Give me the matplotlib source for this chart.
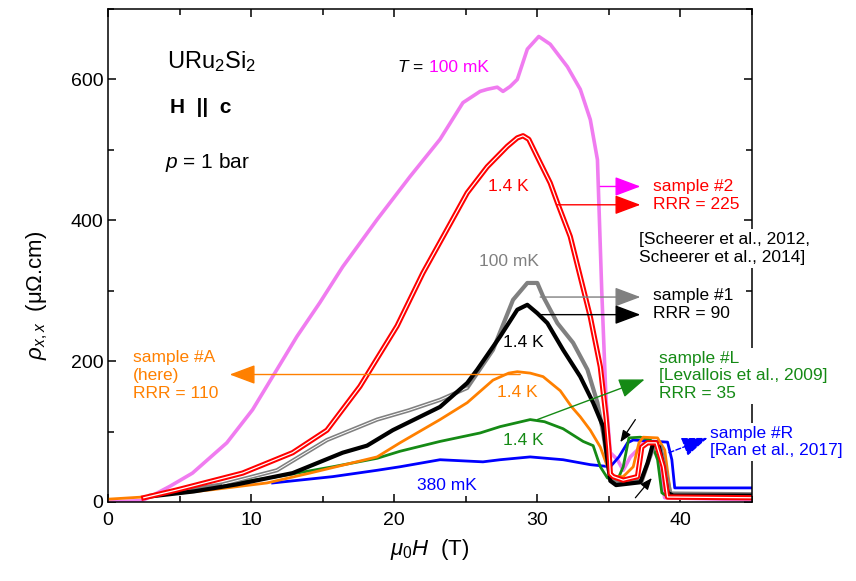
import numpy as np
import matplotlib
matplotlib.use("Agg")
import matplotlib.pyplot as plt
from matplotlib.ticker import MultipleLocator

plt.rcParams['font.family'] = ['Liberation Sans', 'DejaVu Sans']
plt.rcParams['mathtext.fontset'] = 'custom'
plt.rcParams['mathtext.rm'] = 'Liberation Sans'
plt.rcParams['mathtext.it'] = 'Liberation Sans:italic'
plt.rcParams['mathtext.bf'] = 'Liberation Sans:bold'

# sample #2, T = 100 mK
mag_x = [0, 2.4, 2.9, 4.3, 5.9, 8.3, 10.1, 11.8, 13.2, 14.8, 16.4, 18.8, 21.1, 23.2, 24.8, 26.0, 26.5,
         27.2, 27.6, 28.1, 28.6, 29.3, 30.1, 30.9, 32.1, 33.0, 33.7, 34.2, 34.5, 34.8, 35.1, 35.6,
         36.0, 36.5, 37.0, 37.4, 37.9, 38.4, 38.7, 38.9, 45]
mag_y = [0, 2, 7, 22, 41, 84, 131, 188, 235, 283, 334, 401, 462, 515, 567, 583, 586,
         589, 583, 590, 600, 643, 661, 650, 618, 586, 543, 486, 300, 145, 70, 60,
         45, 64, 74, 84, 84, 77, 27, 6, 3]

# sample #2, T = 1.4 K
red_x = [2.5, 4.8, 9.4, 12.9, 15.3, 17.6, 20.2, 22.0, 23.5, 25.1, 26.5, 27.9, 28.6, 29.0, 29.4, 30.0,
         30.9, 31.4, 32.3, 33.0, 33.7, 34.4, 34.8, 35.0, 35.1, 35.3, 36.0, 37.0, 37.3, 37.7, 38.3,
         38.8, 39.1, 45]
red_y = [6, 17, 41, 70, 102, 164, 250, 325, 380, 439, 476, 505, 517, 520, 515, 490,
         453, 425, 377, 320, 263, 192, 121, 74, 40, 36, 31, 36, 78, 84, 84,
         50, 7, 6]

# sample #1, T = 100 mK
gray_x = [3.0, 8.0, 11.8, 15.3, 18.8, 21.0, 23.2, 25.1, 26.9, 28.3, 29.3, 30.0, 30.4, 31.4, 32.5, 33.5,
          34.2, 34.6, 35.0, 35.3, 37.3, 37.8, 38.2, 38.6, 39.0, 39.3, 45]
gray_y = [9, 25, 45, 88, 117, 130, 145, 162, 216, 287, 311, 311, 292, 254, 226, 188,
          141, 98, 45, 28, 30, 60, 82, 78, 40, 12, 11]

# sample #1, T = 1.4 K
blk_x = [3.0, 6.0, 9.0, 12.9, 16.4, 18.1, 19.9, 23.2, 25.1, 25.8, 27.4, 28.6, 29.3, 30.0, 30.7, 31.8,
         33.0, 33.9, 34.6, 34.9, 35.1, 35.5, 37.2, 37.7, 38.1, 38.5, 38.8, 39.1, 39.5, 45]
blk_y = [8, 15, 25, 41, 70, 80, 102, 135, 169, 188, 235, 273, 280, 268, 254, 216,
         178, 141, 107, 60, 30, 24, 28, 55, 84, 78, 50, 13, 9, 9]

# sample #A (here), T = 1.4 K
org_x = [0, 2.4, 7.1, 11.1, 14.1, 18.8, 20.4, 23.2, 25.1, 26.9, 28.0, 28.6, 29.5, 30.4, 31.6, 32.4,
         33.0, 33.7, 34.4, 34.9, 35.3, 36.0, 36.7, 37.1, 37.4, 38.4, 38.9, 39.3, 39.6, 45]
org_y = [4, 7, 17, 27, 41, 64, 84, 117, 141, 173, 183, 185, 183, 178, 158, 135,
         121, 102, 78, 50, 36, 36, 50, 84, 92, 91, 74, 13, 7, 7]

# sample #L, T = 1.4 K
grn_x = [4.7, 8.0, 11.8, 15.7, 18.8, 20.4, 23.2, 26.0, 27.4, 29.5, 30.5, 31.8, 33.2, 33.9, 34.4, 34.9,
         35.6, 36.0, 36.4, 37.2, 37.9, 38.4, 38.7, 39.0, 45]
grn_y = [14, 24, 36, 50, 62, 72, 86, 98, 107, 117, 114, 104, 86, 80, 50, 34,
         31, 50, 91, 92, 88, 60, 13, 9, 9]

# sample #R, T = 380 mK
blu_x = [11.5, 15.7, 18.8, 20.4, 23.2, 26.2, 27.4, 29.5, 31.8, 33.7, 35.1, 35.7, 36.3, 36.7, 39.1,
         39.4, 39.6, 45]
blu_y = [27, 36, 45, 50, 60, 57, 60, 64, 60, 53, 50, 64, 84, 88, 85,
         60, 20, 20]

fig = plt.figure(figsize=(8.56, 5.81), dpi=100)
ax = fig.add_axes([0.1262, 0.136, 0.7523, 0.8485])

ax.plot(mag_x, mag_y, color='#f07cf0', lw=2.6, zorder=2)
ax.plot(blu_x, blu_y, color='#0000ff', lw=2.0, zorder=2)
ax.plot(grn_x, grn_y, color='#158a15', lw=2.0, zorder=2)
ax.plot(org_x, org_y, color='#ff8000', lw=2.0, zorder=2)
ax.plot(gray_x, gray_y, color='#808080', lw=3.0, zorder=2)
# up/down sweeps split apart on the rising side
ax.plot(gray_x[1:8], gray_y[1:8], color='white', lw=0.7, zorder=2)
ax.plot(blk_x, blk_y, color='black', lw=3.0, zorder=2)
ax.plot(red_x, red_y, color='#ff0000', lw=3.8, zorder=2)
ax.plot(red_x, red_y, color='white', lw=0.9, zorder=2)

ax.set_xlim(0, 45)
ax.set_ylim(0, 700)
ax.xaxis.set_major_locator(MultipleLocator(10))
ax.xaxis.set_minor_locator(MultipleLocator(5))
ax.yaxis.set_major_locator(MultipleLocator(200))
ax.yaxis.set_minor_locator(MultipleLocator(100))
ax.tick_params(which='both', direction='in', top=True, right=True, width=1.1, labelsize=14)
ax.tick_params(which='major', length=6)
ax.tick_params(which='minor', length=4)
ax.tick_params(axis='x', pad=7)
for s in ax.spines.values():
    s.set_linewidth(1.1)

ax.set_xlabel(r'$\mu_0H$  (T)', fontsize=16, labelpad=6)
ax.set_ylabel(r'$\rho_{x,x}$  (μΩ.cm)', fontsize=16)
ax.yaxis.set_label_coords(-0.09, 0.42)

fs = 12.5
# left side labels
ax.text(4.1, 626, r'URu$_2$Si$_2$', fontsize=17, va='center')
ax.text(4.3, 560, 'H  ||  c', fontsize=15, fontweight='bold', va='center')
ax.text(4.0, 482, r'$p$ = 1 bar', fontsize=15, va='center')

# curve labels
ax.text(20.2, 617, r'$T$ =', fontsize=fs, va='center')
ax.text(22.4, 617, '100 mK', fontsize=fs, va='center', color='#ff00ff')
ax.text(28.0, 448, '1.4 K', fontsize=fs, va='center', ha='center', color='#ff0000')
ax.text(28.0, 341, '100 mK', fontsize=fs, va='center', ha='center', color='#808080')
ax.text(29.0, 227, '1.4 K', fontsize=fs, va='center', ha='center', color='black')
ax.text(28.6, 156, '1.4 K', fontsize=fs, va='center', ha='center', color='#ff8000')
ax.text(29.0, 88, '1.4 K', fontsize=fs, va='center', ha='center', color='#158a15')
ax.text(23.7, 23, '380 mK', fontsize=fs, va='center', ha='center', color='#0000ff')

# sample labels
ax.text(38.1, 435, 'sample #2\nRRR = 225', fontsize=fs, va='center', color='#ff0000', linespacing=1.25)
ax.text(37.1, 360, '[Scheerer et al., 2012,\nScheerer et al., 2014]', fontsize=fs, va='center',
        linespacing=1.25, zorder=5, bbox=dict(facecolor='white', edgecolor='none', pad=2))
ax.text(38.1, 280, 'sample #1\nRRR = 90', fontsize=fs, va='center', linespacing=1.25)
ax.text(38.5, 179, 'sample #L\n[Levallois et al., 2009]\nRRR = 35', fontsize=fs, va='center',
        color='#158a15', linespacing=1.2, zorder=5, bbox=dict(facecolor='white', edgecolor='none', pad=2))
ax.text(42.1, 85, 'sample #R\n[Ran et al., 2017]', fontsize=fs, va='center', color='#0000ff',
        linespacing=1.2, zorder=5, bbox=dict(facecolor='white', edgecolor='none', pad=2))
ax.text(1.75, 179, 'sample #A\n(here)\nRRR = 110', fontsize=fs, va='center', color='#ff8000',
        linespacing=1.25)

big = '-|>,head_length=0.8,head_width=0.3'
def arrow(x0, y0, x1, y1, c, ls='-'):
    ax.annotate('', xy=(x1, y1), xytext=(x0, y0),
                arrowprops=dict(arrowstyle=big, mutation_scale=20, color=c, lw=1.0,
                                linestyle=ls, shrinkA=0, shrinkB=0), zorder=4)

arrow(34.4, 448, 37.2, 448, '#ff00ff')
arrow(31.4, 422, 37.2, 422, '#ff0000')
arrow(30.2, 291, 37.2, 291, '#808080')
arrow(30.2, 266, 37.2, 266, 'black')
arrow(28.8, 181, 8.5, 181, '#ff8000')
arrow(30.0, 117, 37.5, 174, '#158a15')
arrow(39.2, 70, 41.9, 91, '#0000ff', ls='--')

small = '-|>,head_length=0.5,head_width=0.2'
ax.annotate('', xy=(35.8, 85), xytext=(36.85, 117),
            arrowprops=dict(arrowstyle=small, mutation_scale=14, color='black', lw=0.9,
                            shrinkA=0, shrinkB=0))
ax.annotate('', xy=(38.0, 34), xytext=(36.85, 6),
            arrowprops=dict(arrowstyle=small, mutation_scale=14, color='black', lw=0.9,
                            shrinkA=0, shrinkB=0))

fig.savefig('out.png', dpi=100)
